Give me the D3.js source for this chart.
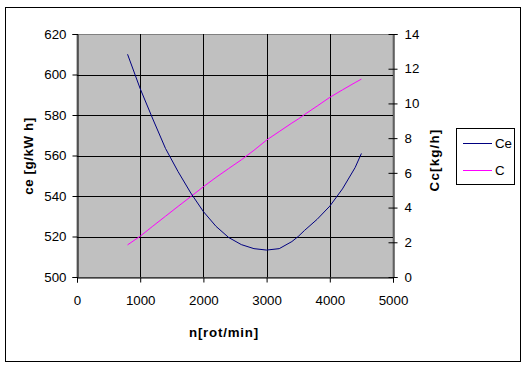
<!DOCTYPE html>
<html>
<head>
<meta charset="utf-8">
<script src="https://cdn.jsdelivr.net/npm/d3@7"></script>
<style>
  body { margin: 0; background: #fff; }
  text { font-family: "Liberation Sans", Arial, sans-serif; }
</style>
</head>
<body>
<svg width="528" height="370"></svg>
<script>
// data
const rpm = [800, 1000, 1200, 1400, 1600, 1800, 2000, 2200, 2400, 2600, 2800, 3000, 3200, 3400, 3500, 3600, 3800, 4000, 4200, 4400, 4500];
const ceVals = [610, 593, 578, 563.5, 552, 541.5, 532.3, 525, 519.5, 516, 514, 513.3, 514, 517.5, 520, 523, 528.5, 535, 543.5, 554, 561];
const cVals = [1.85, 2.35, 2.93, 3.5, 4.07, 4.63, 5.2, 5.74, 6.25, 6.75, 7.3, 7.89, 8.38, 8.87, 9.1, 9.36, 9.85, 10.35, 10.78, 11.2, 11.4];
const xTicks = [0, 1000, 2000, 3000, 4000, 5000];
const ceTicks = [500, 520, 540, 560, 580, 600, 620];
const cTicks = [0, 2, 4, 6, 8, 10, 12, 14];
const seriesNames = ["Ce", "C"];
const seriesColors = ["#000080", "#ff00ff"];

const svg = d3.select('svg');
const plot = {left: 77, right: 393, top: 34, bottom: 277};

// outer border
svg.append("rect")
  .attr("x", 5.5).attr("y", 7.5)
  .attr("width", 515).attr("height", 354)
  .attr("fill", "white").attr("stroke", "black");

const xScale = d3.scaleLinear().domain([0, 5000]).range([plot.left, plot.right]);
const yLeft = d3.scaleLinear().domain([500, 620]).range([plot.bottom, plot.top]);
const yRight = d3.scaleLinear().domain([0, 14]).range([plot.bottom, plot.top]);

// plot area
svg.append("rect")
  .attr("x", plot.left).attr("y", plot.top + 0.5)
  .attr("width", plot.right - plot.left).attr("height", plot.bottom - plot.top)
  .attr("fill", "#c0c0c0").attr("stroke", "#808080");

// grid lines
svg.append("g").selectAll("line")
  .data(ceTicks.slice(1, -1))
  .enter().append("line")
  .attr("x1", plot.left).attr("x2", plot.right)
  .attr("y1", d => Math.round(yLeft(d)) + 0.5)
  .attr("y2", d => Math.round(yLeft(d)) + 0.5)
  .attr("stroke", "black");

svg.append("g").selectAll("line")
  .data(xTicks.slice(1, -1))
  .enter().append("line")
  .attr("y1", plot.top).attr("y2", plot.bottom)
  .attr("x1", d => Math.round(xScale(d)) + 0.5)
  .attr("x2", d => Math.round(xScale(d)) + 0.5)
  .attr("stroke", "black");

// axes
const xAxis = svg.append("g")
  .attr("transform", "translate(0," + (plot.bottom + 0.5) + ")")
  .call(d3.axisBottom(xScale).tickValues(xTicks).tickFormat(d3.format("d"))
    .tickSizeOuter(0).tickSize(5).tickPadding(13));

const leftAxis = svg.append("g")
  .attr("transform", "translate(" + (plot.left + 0.5) + ",0)")
  .call(d3.axisLeft(yLeft).tickValues(ceTicks).tickSizeOuter(0).tickSize(5).tickPadding(6));

const rightAxis = svg.append("g")
  .attr("transform", "translate(" + (plot.right + 0.5) + ",0)")
  .call(d3.axisRight(yRight).tickValues(cTicks).tickSizeOuter(0).tickSize(4).tickPadding(7));
rightAxis.selectAll(".tick line").attr("x1", -5);

[xAxis, leftAxis, rightAxis].forEach(g => {
  g.selectAll("text").attr("font-size", 13.3).attr("fill", "black")
    .style("font-family", "'Liberation Sans', Arial, sans-serif");
  g.selectAll("path, line").attr("stroke", "black");
});

// lines
const ceLine = d3.line().x((d, i) => xScale(rpm[i])).y(d => yLeft(d));
const cLine = d3.line().x((d, i) => xScale(rpm[i])).y(d => yRight(d));

svg.append("path").datum(cVals)
  .attr("d", cLine).attr("fill", "none")
  .attr("stroke", seriesColors[1]).attr("stroke-width", 1);

svg.append("path").datum(ceVals)
  .attr("d", ceLine).attr("fill", "none")
  .attr("stroke", seriesColors[0]).attr("stroke-width", 1);

// axis titles
svg.append("text")
  .attr("transform", "translate(33,156) rotate(-90)")
  .attr("text-anchor", "middle")
  .attr("font-size", 13.3).attr("font-weight", "bold")
  .attr("letter-spacing", 0.6)
  .text("ce  [g/kW h]");

svg.append("text")
  .attr("transform", "translate(439,160) rotate(-90)")
  .attr("text-anchor", "middle")
  .attr("font-size", 13.3).attr("font-weight", "bold")
  .attr("letter-spacing", 1.2)
  .text("Cc[kg/h]");

svg.append("text")
  .attr("x", 224).attr("y", 337)
  .attr("text-anchor", "middle")
  .attr("font-size", 13.3).attr("font-weight", "bold")
  .attr("letter-spacing", 0.8)
  .text("n[rot/min]");

// legend
const legend = svg.append("g");
legend.append("rect")
  .attr("x", 456.5).attr("y", 128.5)
  .attr("width", 58).attr("height", 56)
  .attr("fill", "white").attr("stroke", "black");

legend.selectAll("line.leg")
  .data(seriesNames)
  .enter().append("line")
  .attr("x1", 463).attr("x2", 492)
  .attr("y1", (d, i) => 143.5 + i * 27)
  .attr("y2", (d, i) => 143.5 + i * 27)
  .attr("stroke", (d, i) => seriesColors[i]);

legend.selectAll("text.leg")
  .data(seriesNames)
  .enter().append("text")
  .attr("x", 495)
  .attr("y", (d, i) => 148 + i * 27)
  .attr("font-size", 13.3)
  .text(d => d);
</script>
</body>
</html>
